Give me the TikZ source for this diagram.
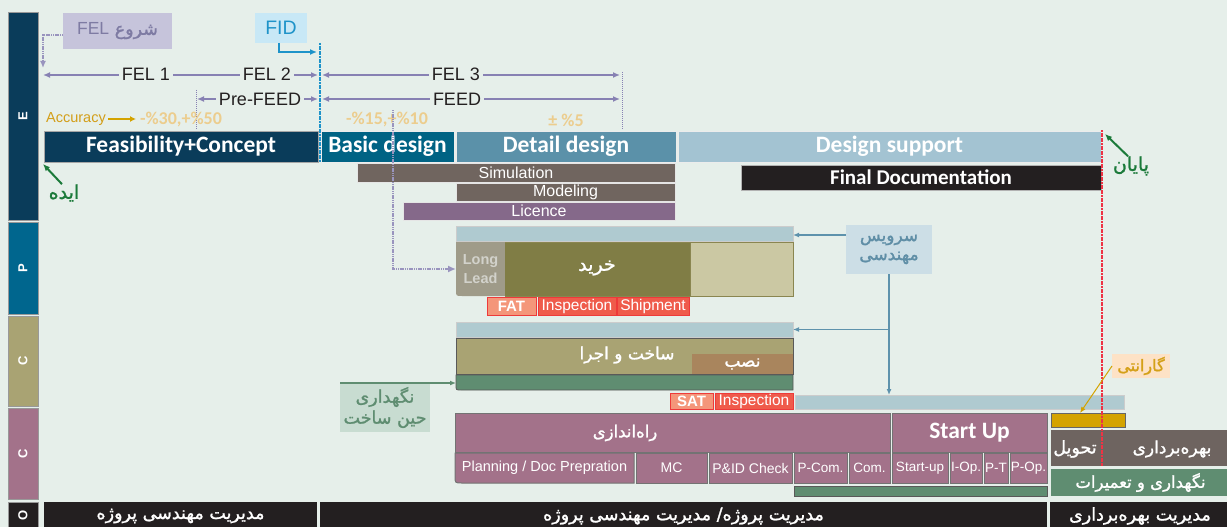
\documentclass[tikz,border=0pt]{standalone}
\usepackage{fontspec}
\setmainfont{Liberation Sans}
\newfontfamily\calib{Carlito}
\newfontfamily\fa[Script=Arabic, FakeBold=1.3]{DejaVu Sans}
\TeXXeTstate=1
\usetikzlibrary{arrows.meta}

\definecolor{bgc}{HTML}{E6EFEA}
\definecolor{navy}{HTML}{0A3C5A}
\definecolor{teal}{HTML}{006384}
\definecolor{steel}{HTML}{5B91A9}
\definecolor{pale}{HTML}{A3C3D2}
\definecolor{plane}{HTML}{00668E}
\definecolor{olivel}{HTML}{A9A373}
\definecolor{mauve}{HTML}{A3728A}
\definecolor{ink}{HTML}{231F20}
\definecolor{taupe}{HTML}{70655F}
\definecolor{plum}{HTML}{85698A}
\definecolor{felc}{HTML}{8781B3}
\definecolor{fidc}{HTML}{1E93C9}
\definecolor{fidbg}{HTML}{C8E8F6}
\definecolor{startbg}{HTML}{C6C4DB}
\definecolor{starttxt}{HTML}{7E7BA3}
\definecolor{goldc}{HTML}{D4A300}
\definecolor{acctxt}{HTML}{D39E18}
\definecolor{accval}{HTML}{ECCD8E}
\definecolor{gtxt}{HTML}{1B7A3A}
\definecolor{servbg}{HTML}{CCDEE6}
\definecolor{servtxt}{HTML}{5F8EA6}
\definecolor{servarr}{HTML}{5E92AC}
\definecolor{lbar}{HTML}{AFCAD0}
\definecolor{longc}{HTML}{9F9B89}
\definecolor{longtxt}{HTML}{D2D2CB}
\definecolor{buyc}{HTML}{807D45}
\definecolor{paleolive}{HTML}{CBC8A3}
\definecolor{oliveedge}{HTML}{8A8650}
\definecolor{salmon}{HTML}{F4967A}
\definecolor{tagred}{HTML}{EE3A3A}
\definecolor{redfill}{HTML}{EF5B4B}
\definecolor{nasbc}{HTML}{A9855D}
\definecolor{mgreen}{HTML}{5F8D71}
\definecolor{hinbg}{HTML}{C8DCD1}
\definecolor{garbg}{HTML}{FDE2C6}
\definecolor{gartxt}{HTML}{D4A017}
\definecolor{opc}{HTML}{6E6460}
\definecolor{endred}{HTML}{EE3344}

\newcommand{\fsz}[1]{\fontsize{#1}{#1}\selectfont}
% box from (x1,y1) to (x2,y2): name, x1, y1, x2, y2, style, text
\newcommand{\bx}[7]{\node[#6, minimum width={(#4-#2)*1pt}, minimum height={(#5-#3)*1pt}] (#1) at ({(#2+#4)/2},{(#3+#5)/2}) {#7};}
\newcommand{\rl}[1]{\beginR #1\endR}

\begin{document}
\begin{tikzpicture}[x=1pt,y=-1pt,
  blk/.style={rectangle, inner sep=0pt, outer sep=0pt, line width=0.7pt},
  lane/.style={blk, draw=gray!80, line width=1pt, text=white, font=\bfseries\fsz{13}},
  hdr/.style={blk, draw=white!85!gray, text=white, font=\calib\bfseries\fsz{23.5}},
  sub/.style={blk, draw=white!80!gray, text=white, font=\fsz{16}},
  lb/.style={blk, fill=lbar, draw=gray!40},
  tag/.style={blk, draw=tagred, line width=1pt, text=white, font=\fsz{15.5}},
  cmbox/.style={blk, fill=mauve, draw=gray!90!black, line width=1pt, text=white},
  cmsub/.style={cmbox, font=\fsz{13.5}},
  farsi/.style={inner sep=0pt, font=\fa\fsz{#1}},
  onl/.style={fill=bgc, inner xsep=3pt, inner ysep=1pt, font=\fsz{18}, text=ink},
  felarr/.style={draw=felc, line width=2pt, {Latex[length=7pt,width=6pt]}-{Latex[length=7pt,width=6pt]}},
  thindot/.style={draw=felc, line width=0.7pt, dash pattern=on 1pt off 1pt},
  thickdot/.style={draw=felc!85, line width=2pt, dash pattern=on 1.2pt off 0.6pt},
  garrow/.style={draw=gtxt, line width=2pt, -{Latex[length=7pt,width=6pt]}},
  sarrow/.style={draw=servarr, line width=1.2pt, -{Latex[length=6pt,width=5pt]}}
]
\useasboundingbox (0,0) rectangle (1227,527);
\fill[bgc] (0,0) rectangle (1227,527);

% ---- lanes ----
\bx{laneE}{8}{13}{38}{220}{lane, fill=navy}{\rotatebox{90}{E}}
\bx{laneP}{8}{222}{38}{314}{lane, fill=plane}{\rotatebox{90}{P}}
\bx{laneC}{8}{316}{38}{406}{lane, fill=olivel}{\rotatebox{90}{C}}
\bx{laneCm}{8}{408}{38}{499}{lane, fill=mauve}{\rotatebox{90}{C}}
\bx{laneO}{8}{502}{38}{530}{lane, fill=ink}{\raisebox{2pt}{\rotatebox{90}{O}}}

% ---- engineering ----
\bx{feas}{44}{131}{318}{162}{hdr, fill=navy, draw=gray!70}{Feasibility+Concept}
\bx{basic}{321}{131}{454}{162}{hdr, fill=teal}{Basic design}
\bx{detail}{456}{131}{676}{162}{hdr, fill=steel}{Detail design}
\bx{support}{678}{131}{1101}{162}{hdr, fill=pale}{Design support}
\bx{findoc}{741}{165}{1101}{190}{blk, fill=ink, draw=gray!60, text=white, font=\calib\bfseries\fsz{21}}{Final Documentation}
\bx{sim}{357}{163}{675}{182}{sub, fill=taupe}{Simulation}
\bx{model}{456}{183}{675}{201}{sub, fill=taupe}{Modeling}
\bx{lic}{403}{202}{675}{220}{sub, fill=plum}{Licence}

% ---- procurement ----
\bx{ptop}{456}{226}{793}{241}{lb}{}
\fill[longc] (456,242) -- (505,242) -- (505,296) -- (462,296) .. controls (456,296) .. (456,290) -- cycle;
\bx{longlead}{456}{242}{505}{296}{blk, text=longtxt, align=center, font=\bfseries\fsz{14.5}, execute at begin node=\setlength{\baselineskip}{19pt}}{Long\\Lead}
\bx{buy}{505}{242}{690}{296}{blk, fill=buyc}{}
\bx{pend}{690}{242}{793}{296}{blk, fill=paleolive}{}
\draw[oliveedge, line width=0.8pt] (505,242) -- (793,242) -- (793,296) -- (505,296);
\draw[oliveedge, line width=0.8pt] (690,242) -- (690,296);
\node[farsi=19, text=white] (buyT) at (597,268) {\rl{خرید}};
\bx{fat}{487}{297}{536}{315}{tag, fill=salmon, font=\bfseries\fsz{15}}{FAT}
\bx{insp}{538}{297}{616}{315}{tag, fill=redfill}{Inspection}
\bx{ship}{617}{297}{689}{315}{tag, fill=redfill}{Shipment}

% ---- construction ----
\bx{ctop}{456}{322}{793}{337}{lb}{}
\bx{build}{456}{338}{793}{374}{blk, fill=olivel, draw=gray!70!black, line width=0.8pt}{}
\node[farsi=17, text=white] (buildT) at (627,355) {\rl{ساخت و اجرا}};
\bx{nasb}{692}{354}{793}{374}{blk, fill=nasbc, text=white, font=\fa\fsz{17}}{\rl{نصب}}
\filldraw[fill=mgreen, draw=gray!70!black, line width=0.8pt] (456,375) -- (793,375) -- (793,390) -- (461,390) .. controls (456,390) .. (456,385) -- cycle;
\bx{cbar}{456}{375}{793}{390}{blk}{}
\bx{sat}{670}{393}{713}{409}{tag, fill=salmon, font=\bfseries\fsz{15}}{SAT}
\bx{insp2}{715}{393}{793}{409}{tag, fill=redfill}{Inspection}
\bx{svcbar}{795}{395}{1124}{409}{lb}{}

% ---- commissioning ----
\bx{rah}{455}{413}{890}{452}{cmbox}{}
\node[farsi=16.5, text=white] (rahT) at (625,433) {\rl{راه‌اندازی}};
\bx{startup}{892}{413}{1047}{452}{cmbox, font=\calib\bfseries\fsz{23.5}}{Start Up}
\filldraw[fill=mauve, draw=gray!90!black, line width=1pt] (455,453) -- (634,453) -- (634,483) -- (462,483) .. controls (455,483) .. (455,476) -- cycle;
\bx{plan}{455}{453}{634}{483}{blk, text=white, font=\fsz{14.5}}{Planning / Doc Prepration}
\bx{mc}{636}{453}{707}{483}{cmsub, font=\fsz{14}}{MC}
\bx{pid}{709}{453}{792}{483}{cmsub, font=\fsz{14}}{P\&ID Check}
\bx{pcom}{794}{453}{847}{483}{cmsub}{P-Com.}
\bx{com}{849}{453}{890}{483}{cmsub}{\raisebox{-3pt}{Com.}}
\bx{su}{892}{453}{948}{483}{cmsub}{Start-up}
\bx{iop}{950}{453}{982}{483}{cmsub}{I-Op.}
\bx{pt}{984}{453}{1008}{483}{cmsub}{P-T}
\bx{pop}{1010}{453}{1047}{483}{cmsub}{P-Op.}
\bx{cgreen}{794}{486}{1047}{496}{blk, fill=mgreen, draw=gray!70!black}{}

% ---- operation ----
\bx{gold}{1051}{413}{1125}{427}{blk, fill=goldc, draw=gray!80!black}{}
\bx{opbox}{1051}{430}{1230}{466}{blk, fill=opc}{}
\node[farsi=17.5, text=white] (tahvil) at (1075,449) {\rl{تحویل}};
\node[farsi=17, text=white] (bahre) at (1172,449) {\rl{بهره‌برداری}};
\bx{maint}{1051}{469}{1230}{496}{blk, fill=mgreen, text=white, font=\fa\fsz{16.5}}{\rl{نگهداری و تعمیرات}}

% ---- management row ----
\bx{o1}{44}{502}{317}{530}{blk, fill=ink, text=white, font=\fa\fsz{17.5}}{\rl{مدیریت مهندسی پروژه}}
\bx{o2}{320}{502}{1047}{530}{blk, fill=ink, text=white, font=\fa\fsz{17.5}}{\rl{مدیریت پروژه/ مدیریت مهندسی پروژه}}
\bx{o3}{1050}{502}{1230}{530}{blk, fill=ink, text=white, font=\fa\fsz{17.5}}{\rl{مدیریت بهره‌برداری}}

% ---- phase arrows ----
\coordinate (felA) at (43,75);
\coordinate (felB) at (318,75);
\coordinate (felC) at (322,75);
\coordinate (felD) at (620,75);
\coordinate (preA) at (197,99);
\coordinate (preB) at (318,99);
\coordinate (feedA) at (322,99);
\coordinate (feedB) at (620,99);
\draw[thindot] (196,90) -- (196,130);
\draw[thindot] (622,72) -- (622,130);
\draw[felarr] (felA) -- (felB);
\draw[felarr] (felC) -- (felD);
\draw[felarr] (preA) -- (preB);
\draw[felarr] (feedA) -- (feedB);
\node[onl] (fel1) at (146,74) {FEL 1};
\node[onl] (fel2) at (267,74) {FEL 2};
\node[onl] (fel3) at (456,74) {FEL 3};
\node[onl] (prefeed) at (260,99) {Pre-FEED};
\node[onl] (feed) at (457,99) {FEED};

% ---- accuracy ----
\node[inner sep=0pt, text=acctxt, font=\fsz{14.5}] (acc) at (76,119) {Accuracy};
\coordinate (accEnd) at (136,119);
\draw[draw=goldc, line width=2pt, -{Latex[length=6pt,width=6pt]}] (acc.east) ++(2pt,0) -- (accEnd);
\node[inner sep=0pt, text=accval, font=\calib\bfseries\fsz{18}] (acc1) at (181,120) {-\%30,+\%50};
\node[inner sep=0pt, text=accval, font=\calib\bfseries\fsz{18}] (acc2) at (387,120) {-\%15,+\%10};
\node[inner sep=0pt, text=accval, font=\calib\bfseries\fsz{18}] (acc3) at (566,120) {± \%5};

% ---- milestones ----
\bx{felstart}{63}{13}{172}{49}{blk, fill=startbg, text=starttxt, font=\fa\fsz{17.5}}{\rl{شروع \beginL{\rmfamily FEL}\endL}}
\coordinate (felstartCorner) at (43,35);
\draw[thickdot, -{Latex[length=7pt,width=6pt]}] (felstart.west |- felstartCorner) -- (felstartCorner) -- (felA |- 0,68);
\bx{fid}{255}{13}{307}{43}{blk, fill=fidbg, text=fidc, font=\fsz{19.5}}{FID}
\coordinate (fidTurn) at (279,52);
\draw[draw=fidc, line width=2pt, -{Latex[length=7pt,width=6pt]}] (fid.south -| fidTurn) -- (fidTurn) -- (317,52);
\draw[draw=fidc, line width=2pt, dash pattern=on 2pt off 0.6pt] (320,43) -- (320,162);

% basic design feeds long-lead items
\coordinate (bdTop) at (393,110);
\draw[thickdot, -{Latex[length=8pt,width=7pt]}] (bdTop) |- (longlead.west);

% end of project
\coordinate (endTop) at (1102,130);
\coordinate (endBot) at (1102,466);
\draw[draw=endred, line width=2pt, dash pattern=on 2pt off 0.6pt] (endTop) -- (endBot);

\node[farsi=19, text=gtxt] (ideh) at (64,193) {\rl{ایده}};
\draw[garrow] (ideh.north) ++(-2pt,0pt) -- ([shift={(-1pt,-2pt)}]feas.south west);
\node[farsi=19, text=gtxt] (payan) at (1131,166) {\rl{پایان}};
\draw[garrow] (payan.north) ++(-3pt,0pt) -- ([shift={(4pt,-3pt)}]support.north east);

% engineering service
\bx{serv}{846}{225}{932}{274}{blk, fill=servbg, text=servtxt, align=center, font=\fa\fsz{17}, execute at begin node=\setlength{\baselineskip}{19pt}}{\rl{سرویس}\\\rl{مهندسی}}
\draw[sarrow] (serv.west |- 0,235) -- (ptop.east |- 0,235);
\coordinate (branch) at (serv.south |- ctop.east);
\draw[sarrow] (serv.south) -- (serv.south |- svcbar.north);
\draw[sarrow] (branch) -- (ctop.east);

% maintenance during construction
\bx{hin}{340}{383}{430}{432}{blk, fill=hinbg, text=mgreen, align=center, font=\fa\fsz{17.5}, execute at begin node=\setlength{\baselineskip}{21pt}}{\rl{نگهداری}\\\rl{حین ساخت}}
\draw[draw=mgreen, line width=1.2pt, -{Latex[length=6pt,width=5pt]}] (hin.north west) -- (hin.north west -| cbar.west);

% warranty
\bx{gar}{1112}{354}{1170}{378}{blk, fill=garbg, text=gartxt, font=\fa\fsz{16}}{\rl{گارانتی}}
\draw[draw=goldc, line width=1pt, -{Latex[length=6pt,width=5pt]}] (gar.west) -- ([xshift=-8pt]gold.north);
\end{tikzpicture}
\end{document}
